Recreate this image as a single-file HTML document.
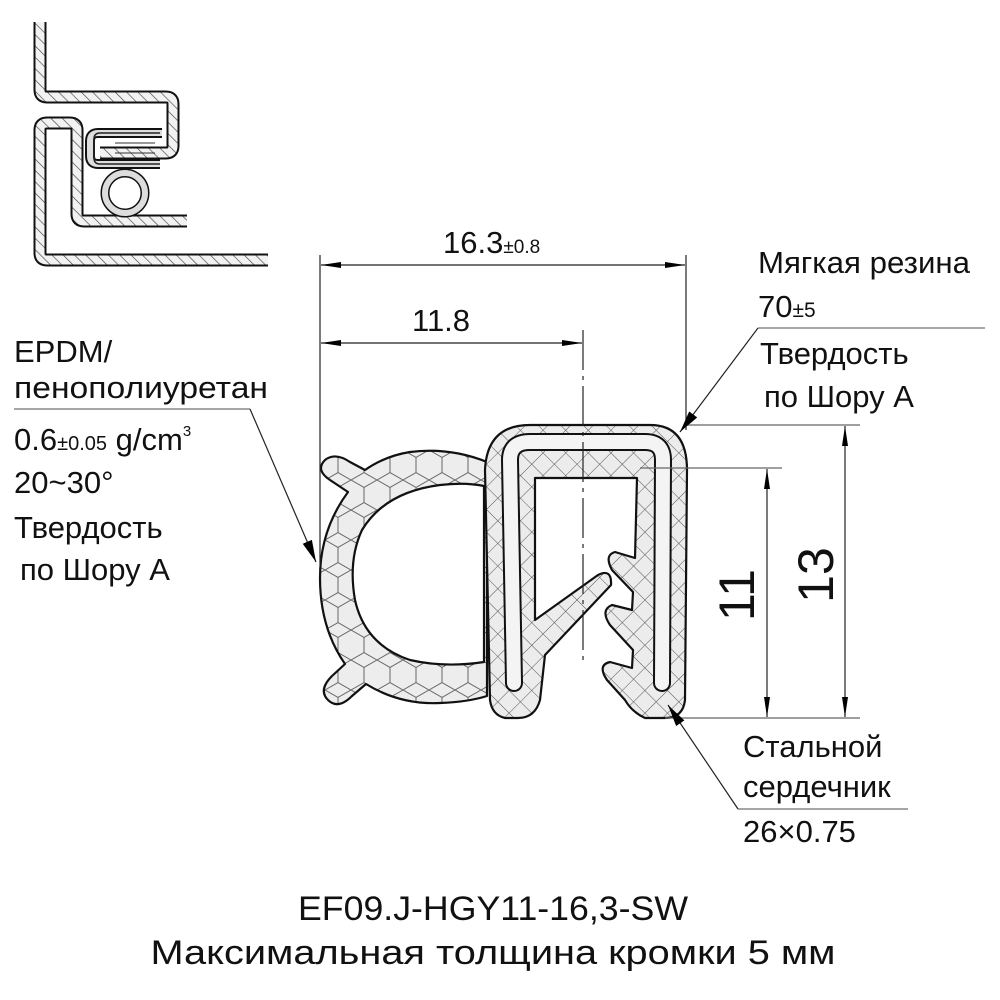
<!DOCTYPE html>
<html><head><meta charset="utf-8"><style>
html,body{margin:0;padding:0;background:#fff}
svg{display:block}
text{font-family:"Liberation Sans",sans-serif;fill:#111}
</style></head><body>
<svg width="1000" height="1000" viewBox="0 0 1000 1000" xmlns="http://www.w3.org/2000/svg">
<defs>
<pattern id="hatch" width="8" height="8" patternUnits="userSpaceOnUse" patternTransform="rotate(-45)">
<rect width="8" height="8" fill="#f2f2f2"/><line x1="0" y1="0" x2="0" y2="8" stroke="#444" stroke-width="1.3"/></pattern>
<pattern id="cross" width="16" height="16" patternUnits="userSpaceOnUse" patternTransform="rotate(45)">
<rect width="16" height="16" fill="#ececec"/><line x1="0" y1="0" x2="16" y2="0" stroke="#555" stroke-width="1"/><line x1="0" y1="0" x2="0" y2="16" stroke="#555" stroke-width="1"/></pattern>
<pattern id="hex" width="26" height="30" patternUnits="userSpaceOnUse">
<rect width="26" height="30" fill="#ededed"/>
<path d="M0,7.5 L13,0 L26,7.5 M13,0 L13,-8 M0,7.5 L0,22.5 L13,30 L26,22.5 M13,30 L13,38 M26,7.5 L26,22.5" fill="none" stroke="#666" stroke-width="1"/></pattern>
<marker id="ar" viewBox="0 0 20 8" refX="20" refY="4" markerWidth="20" markerHeight="8" markerUnits="userSpaceOnUse" orient="auto-start-reverse"><path d="M0,1 L20,4 L0,7 Z" fill="#000"/></marker>
<marker id="ar2" viewBox="0 0 22 10" refX="22" refY="5" markerWidth="22" markerHeight="10" markerUnits="userSpaceOnUse" orient="auto"><path d="M0,0 L22,5 L0,10 Z" fill="#000"/></marker>
</defs>

<!-- small assembly drawing -->
<g fill="none" stroke-linejoin="round">
<path d="M40,22 L40,90 Q40,97 47,97 L166,97 Q173,97 173,104 L173,146 Q173,153 166,153 L100,153" stroke="#111" stroke-width="13"/>
<path d="M40,22 L40,90 Q40,97 47,97 L166,97 Q173,97 173,104 L173,146 Q173,153 166,153 L100,153" stroke="url(#hatch)" stroke-width="9"/>
<path d="M187,221 L84,221 Q77,221 77,214 L77,130 Q77,123 70,123 L47,123 Q40,123 40,130 L40,253 Q40,260 47,260 L268,260" stroke="#111" stroke-width="13"/>
<path d="M187,221 L84,221 Q77,221 77,214 L77,130 Q77,123 70,123 L47,123 Q40,123 40,130 L40,253 Q40,260 47,260 L268,260" stroke="url(#hatch)" stroke-width="9"/>
<path d="M162,133 L98,133 Q90,133 90,141 L90,156 Q90,164 98,164 L160,164" stroke="#111" stroke-width="10"/>
<path d="M162,133 L98,133 Q90,133 90,141 L90,156 Q90,164 98,164 L160,164" stroke="#ddd" stroke-width="6"/>
<path d="M160,133 L100,133 Q94,133 94,139 L94,158 Q94,164 100,164 L160,164" stroke="#222" stroke-width="1.5"/>
<circle cx="125" cy="193" r="20" stroke="#111" stroke-width="9"/>
<circle cx="125" cy="193" r="20" stroke="#ddd" stroke-width="6"/>
<path d="M115,143 h40 M115,153 h40" stroke="#333" stroke-width="1"/>
</g>

<!-- bulb -->
<g stroke="#111" stroke-width="2.2" stroke-linejoin="round">
<path fill="url(#hex)" d="M487,462 Q450,447 410,452 Q385,456 365,470 L350,462 Q335,452 325,460 Q315,470 330,480 L348,492 Q320,530 320,578 Q320,628 345,664 L332,676 Q318,690 328,700 Q338,710 352,696 L366,684 Q400,705 440,703 Q468,702 487,696 Z
M484,486 Q465,482 440,485 Q385,492 362,530 Q348,560 355,600 Q365,645 410,660 Q445,668 484,662 Z" fill-rule="evenodd"/>
<!-- clip body -->
<path fill="url(#cross)" d="M490,700 L485,470 Q487,425 530,425 L650,425 Q687,425 687,470 L685,700 Q683,718 665,718 L645,718 Q632,712 625,700 L607,680 Q597,665 610,662 L632,668 L633,650 L610,625 Q600,610 612,605 L632,610 L633,592 L612,570 Q604,555 615,552 L635,558 L637,478 L535,478 L535,620 L598,575 Q612,568 611,585 L545,655 L540,700 Q535,718 518,718 L505,718 Q492,715 490,700 Z"/>
</g>
<!-- steel core -->
<path d="M514,683 L510,460 Q510,442 530,442 L645,442 Q663,442 663,460 L662,683" fill="none" stroke="#111" stroke-width="18" stroke-linecap="round" stroke-linejoin="round"/>
<path d="M514,683 L510,460 Q510,442 530,442 L645,442 Q663,442 663,460 L662,683" fill="none" stroke="#f4f4f4" stroke-width="14" stroke-linecap="round" stroke-linejoin="round"/>

<!-- dimension lines -->
<g stroke="#222" stroke-width="1.2" fill="none">
<line x1="320" y1="255" x2="320" y2="565"/>
<line x1="686" y1="255" x2="686" y2="430"/>
<line x1="583" y1="330" x2="583" y2="665" stroke-dasharray="40,6,4,6"/>
<line x1="321" y1="265" x2="685" y2="265" marker-start="url(#ar)" marker-end="url(#ar)"/>
<line x1="321" y1="343" x2="582" y2="343" marker-start="url(#ar)" marker-end="url(#ar)"/>
<line x1="687" y1="425" x2="860" y2="425" stroke="#666"/>
<line x1="640" y1="468" x2="782" y2="468" stroke="#666"/>
<line x1="665" y1="718" x2="860" y2="718" stroke="#666"/>
<line x1="845" y1="426" x2="845" y2="717" marker-start="url(#ar)" marker-end="url(#ar)"/>
<line x1="767" y1="469" x2="767" y2="717" marker-start="url(#ar)" marker-end="url(#ar)"/>
<polyline points="14,409 250,409" stroke="#888" stroke-width="1.5"/>
<line x1="250" y1="409" x2="316" y2="562" marker-end="url(#ar2)"/>
<polyline points="985,328 758,328" stroke="#888" stroke-width="1.5"/>
<line x1="758" y1="328" x2="680" y2="432" marker-end="url(#ar2)"/>
<polyline points="738,809 908,809" stroke="#888" stroke-width="1.5"/>
<line x1="738" y1="809" x2="668" y2="705" marker-end="url(#ar2)"/>
</g>

<!-- texts -->
<g font-size="31">
<text x="443" y="253">16.3<tspan font-size="19">±0.8</tspan></text>
<text x="412" y="331">11.8</text>
<text transform="translate(754,595) rotate(-90)" text-anchor="middle" font-size="50">11</text>
<text transform="translate(833,575) rotate(-90)" text-anchor="middle" font-size="50">13</text>
<text x="758" y="273" textLength="212" lengthAdjust="spacingAndGlyphs">Мягкая резина</text>
<text x="758" y="317">70<tspan font-size="21">±5</tspan></text>
<text x="760" y="364">Твердость</text>
<text x="764" y="407">по Шору А</text>
<text x="14" y="362">EPDM/</text>
<text x="14" y="398" textLength="254" lengthAdjust="spacingAndGlyphs">пенополиуретан</text>
<text x="14" y="450">0.6<tspan font-size="20">±0.05</tspan> g/cm<tspan font-size="15" dy="-14">3</tspan></text>
<text x="14" y="493">20~30°</text>
<text x="14" y="538">Твердость</text>
<text x="20" y="580">по Шору А</text>
<text x="743" y="757">Стальной</text>
<text x="743" y="797">сердечник</text>
<text x="743" y="842">26×0.75</text>
<text x="493" y="920" text-anchor="middle" font-size="34" textLength="390" lengthAdjust="spacingAndGlyphs">EF09.J-HGY11-16,3-SW</text>
<text x="493" y="964" text-anchor="middle" font-size="34" textLength="685" lengthAdjust="spacingAndGlyphs">Максимальная толщина кромки 5 мм</text>
</g>
</svg>
</body></html>
